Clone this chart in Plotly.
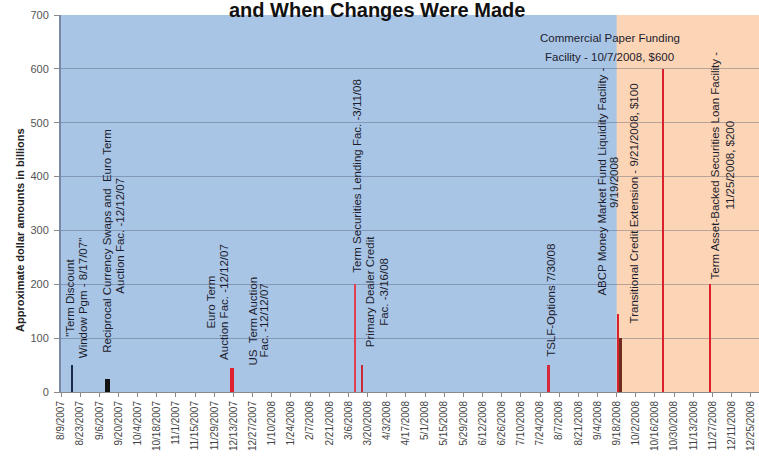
import pandas as pd
import plotly.graph_objects as go

# --- data -----------------------------------------------------------------
facilities = [
    "Term Discount Window Pgm",
    "Reciprocal Currency Swaps",
    "Euro / US Term Auction Fac.",
    "Term Securities Lending Fac.",
    "Primary Dealer Credit Fac.",
    "TSLF-Options",
    "ABCP Money Market Fund Liquidity Facility",
    "Transitional Credit Extension",
    "Commercial Paper Funding Facility",
    "Term Asset-Backed Securities Loan Facility",
]
dates = [
    "2007-08-17", "2007-09-12", "2007-12-12", "2008-03-11", "2008-03-16",
    "2008-07-30", "2008-09-19", "2008-09-21", "2008-10-22", "2008-11-25",
]
amounts = [50, 25, 45, 200, 50, 50, 145, 100, 600, 200]

tick_labels = [
    "8/9/2007", "8/23/2007", "9/6/2007", "9/20/2007", "10/4/2007", "10/18/2007",
    "11/1/2007", "11/15/2007", "11/29/2007", "12/13/2007", "12/27/2007",
    "1/10/2008", "1/24/2008", "2/7/2008", "2/21/2008", "3/6/2008", "3/20/2008",
    "4/3/2008", "4/17/2008", "5/1/2008", "5/15/2008", "5/29/2008", "6/12/2008",
    "6/26/2008", "7/10/2008", "7/24/2008", "8/7/2008", "8/21/2008", "9/4/2008",
    "9/18/2008", "10/2/2008", "10/16/2008", "10/30/2008", "11/13/2008",
    "11/27/2008", "12/11/2008", "12/25/2008",
]

# --- styling ----------------------------------------------------------------
DAY_MS = 86400000
bar_colors = ["#1b2a49", "#111111", "#e3202e", "#e0404f", "#c9283a",
              "#d42a3a", "#d8202e", "#6e2b1e", "#d8202e", "#e01e2a"]
bar_width_days = [1.5, 3.0, 3.5, 0.8, 2.0, 2.2, 1.5, 1.2, 1.8, 1.6]

x_start, x_end = "2007-08-09", "2008-12-31"
crisis_start = "2008-09-18"

FONT = "Liberation Sans, Arial, sans-serif"
TEXT = "#1c1c2c"

fig = go.Figure()
fig.add_trace(go.Bar(
    x=pd.to_datetime(dates),
    y=amounts,
    width=[w * DAY_MS for w in bar_width_days],
    marker=dict(color=bar_colors, line=dict(width=0)),
    hovertext=facilities,
    showlegend=False,
))

# shaded periods behind the gridlines
fig.add_shape(type="rect", xref="x", yref="paper", x0=x_start, x1=crisis_start,
              y0=0, y1=1, fillcolor="#a9c5e6", line_width=0, layer="below")
fig.add_shape(type="rect", xref="x", yref="paper", x0=crisis_start, x1=x_end,
              y0=0, y1=1, fillcolor="#fcd5b6", line_width=0, layer="below")

# rotated facility labels: (text, x date, y value)
vertical_labels = [
    ("\"Term Discount", "2007-08-16", 174),
    ("Window Pgm - 8/17/07\"", "2007-08-25", 174),
    ("Reciprocal Currency Swaps and  Euro Term", "2007-09-12", 280),
    ("Auction Fac. -12/12/07", "2007-09-21", 290),
    ("Euro Term", "2007-11-27", 167),
    ("Auction Fac. -12/12/07", "2007-12-06", 167),
    ("US  Term Auction", "2007-12-27", 132),
    ("Fac. -12/12/07", "2008-01-04", 132),
    ("Term Securities Lending Fac. -3/11/08", "2008-03-12", 401),
    ("Primary Dealer Credit", "2008-03-22", 186),
    ("Fac. -3/16/08", "2008-04-01", 186),
    ("TSLF-Options 7/30/08", "2008-08-01", 171),
    ("ABCP Money Market Fund Liquidity Facility -", "2008-09-07", 390),
    ("9/19/2008", "2008-09-16", 390),
    ("Transitional Credit Extension - 9/21/2008, $100", "2008-10-01", 351),
    ("Term Asset-Backed Securities Loan Facility -", "2008-11-29", 421),
    ("11/25/2008, $200", "2008-12-10", 421),
]
for text, xd, yv in vertical_labels:
    fig.add_annotation(x=xd, y=yv, xref="x", yref="y", text=text, textangle=-90,
                       showarrow=False, xanchor="center", yanchor="middle",
                       font=dict(family=FONT, size=11.5, color=TEXT))

horizontal_labels = [
    ("Commercial Paper Funding", "2008-09-13", 657),
    ("Facility - 10/7/2008, $600", "2008-09-13", 622),
]
for text, xd, yv in horizontal_labels:
    fig.add_annotation(x=xd, y=yv, xref="x", yref="y", text=text,
                       showarrow=False, xanchor="center", yanchor="middle",
                       font=dict(family=FONT, size=11.5, color=TEXT))

# chart title (second line) and y-axis caption
fig.add_annotation(x=0.4527, y=1.0133, xref="paper", yref="paper",
                   text="<b>and When Changes Were Made</b>", showarrow=False,
                   xanchor="center", yanchor="middle",
                   font=dict(family=FONT, size=20, color="#111111"))
fig.add_annotation(x=-0.0587, y=0.430, xref="paper", yref="paper",
                   text="<b>Approximate dollar amounts in billions</b>",
                   textangle=-90, showarrow=False, xanchor="center", yanchor="middle",
                   font=dict(family=FONT, size=11, color="#222222"))

fig.update_layout(
    width=759, height=457,
    margin=dict(l=61, r=0, t=15, b=65),
    paper_bgcolor="white",
    plot_bgcolor="#a9c5e6",
    bargap=0,
    font=dict(family=FONT),
)
fig.update_xaxes(
    type="date",
    range=[x_start, x_end],
    tickvals=pd.to_datetime(tick_labels, format="%m/%d/%Y"),
    ticktext=tick_labels,
    tickangle=-90,
    tickfont=dict(family=FONT, size=10, color="#444444"),
    ticks="outside", ticklen=4, tickcolor="#8a8a8a",
    showgrid=False, showline=True, linecolor="#8a8a8a", linewidth=1,
    zeroline=False,
)
fig.update_yaxes(
    range=[0, 700], dtick=100,
    tickfont=dict(family=FONT, size=11, color="#555555"),
    ticks="outside", ticklen=5, tickcolor="#8a8a8a",
    ticklabelstandoff=3,
    showgrid=True, gridcolor="rgba(60,70,95,0.35)", gridwidth=1,
    showline=True, linecolor="#7a8aa6", linewidth=2,
    zeroline=False,
)

fig.write_html("out.html")
